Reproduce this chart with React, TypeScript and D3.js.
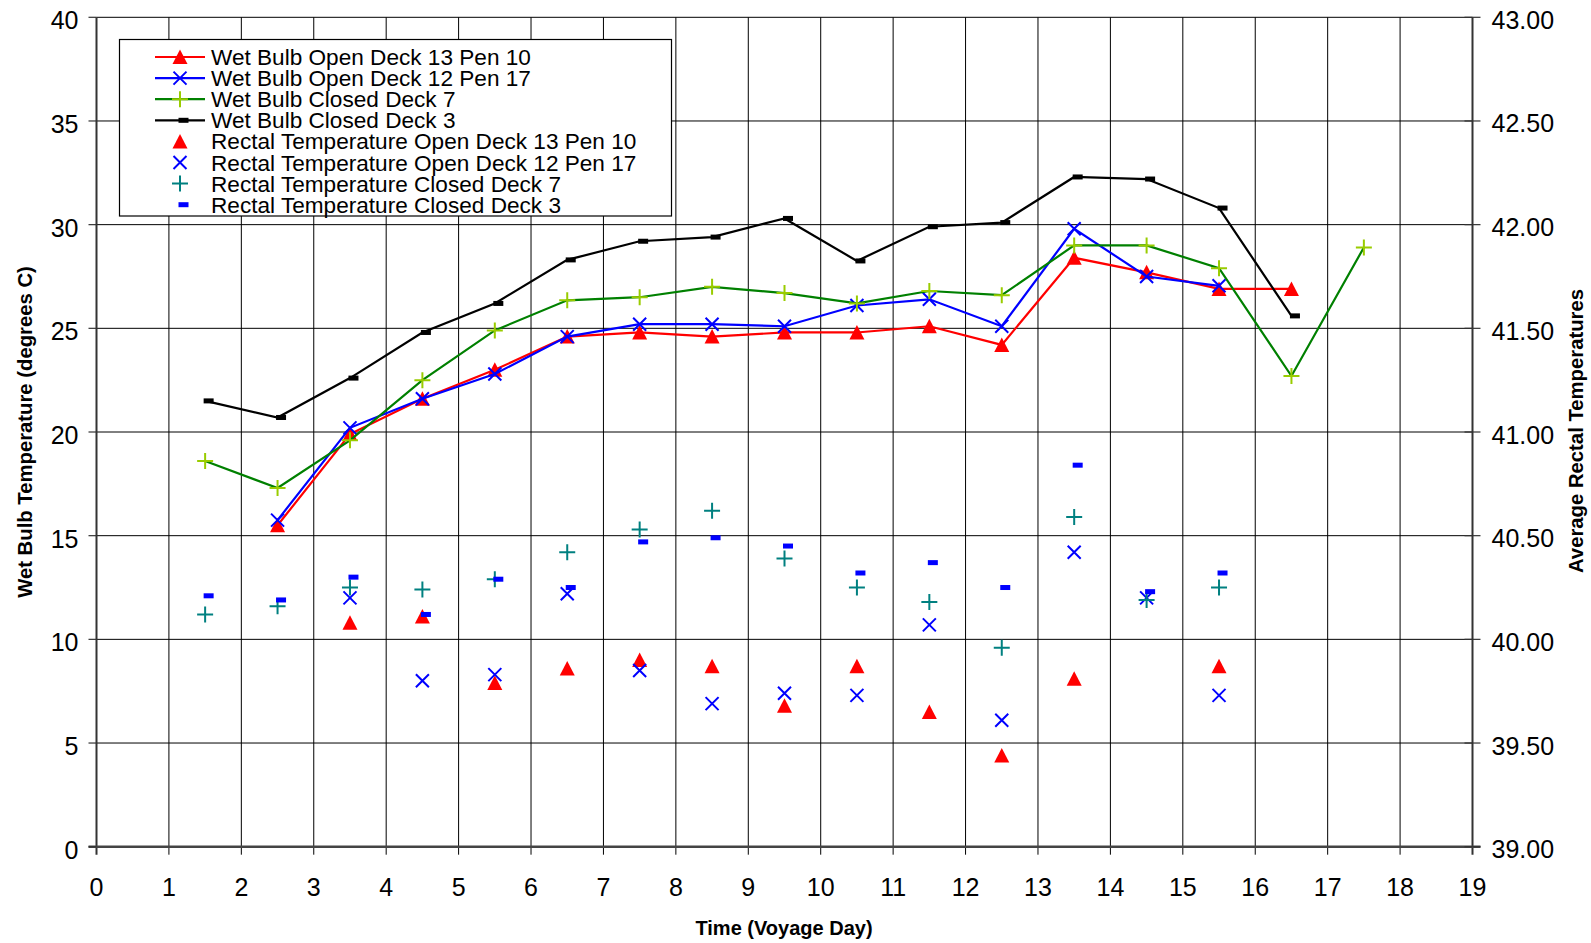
import { useEffect, useRef } from 'react';
import * as d3 from 'd3';

// voyage days (mid-day sampling points)
const days = [1.5, 2.5, 3.5, 4.5, 5.5, 6.5, 7.5, 8.5, 9.5, 10.5, 11.5, 12.5, 13.5, 14.5, 15.5, 16.5, 17.5];

// wet bulb temperatures (left axis, degrees C)
const wetOpen13 = [null, 15.5, 19.9, 21.6, 23.0, 24.6, 24.8, 24.6, 24.8, 24.8, 25.1, 24.2, 28.4, 27.7, 26.9, 26.9, null];
const wetOpen12 = [null, 15.75, 20.2, 21.6, 22.8, 24.6, 25.2, 25.2, 25.1, 26.1, 26.4, 25.1, 29.8, 27.5, 27.05, null, null];
const wetClosed7 = [18.6, 17.3, 19.6, 22.5, 24.9, 26.35, 26.5, 27.0, 26.7, 26.2, 26.8, 26.6, 29.0, 29.0, 27.9, 22.7, 28.9];
const wetClosed3 = [21.5, 20.7, 22.6, 24.8, 26.2, 28.3, 29.2, 29.4, 30.3, 28.25, 29.9, 30.1, 32.3, 32.2, 30.8, 25.6, null];

// average rectal temperatures (right axis)
const rectOpen13 = [null, null, 40.08, 40.11, 39.79, 39.86, 39.9, 39.87, 39.68, 39.87, 39.65, 39.44, 39.81, null, 39.87, null, null];
const rectOpen12 = [null, null, 40.2, 39.8, 39.83, 40.22, 39.85, 39.69, 39.74, 39.73, 40.07, 39.61, 40.42, 40.2, 39.73, null, null];
const rectClosed7 = [40.12, 40.16, 40.25, 40.24, 40.29, 40.42, 40.53, 40.62, 40.39, 40.25, 40.18, 39.96, 40.59, 40.19, 40.25, null, null];
const rectClosed3 = [40.21, 40.19, 40.3, 40.12, 40.29, 40.25, 40.47, 40.49, 40.45, 40.32, 40.37, 40.25, 40.84, 40.23, 40.32, null, null];

const xTicks = d3.range(0, 20);
const leftTicks = [0, 5, 10, 15, 20, 25, 30, 35, 40];
const rightTicks = [39, 39.5, 40, 40.5, 41, 41.5, 42, 42.5, 43];

const FONT = '"Liberation Sans", Arial, Helvetica, sans-serif';

const series = [
  { name: 'Wet Bulb Open Deck 13 Pen 10', values: wetOpen13, axis: 'left', line: '#ff0000', marker: 'triangle', mColor: '#ff0000' },
  { name: 'Wet Bulb Open Deck 12 Pen 17', values: wetOpen12, axis: 'left', line: '#0000ff', marker: 'x', mColor: '#0000ff' },
  { name: 'Wet Bulb Closed Deck 7', values: wetClosed7, axis: 'left', line: '#008000', marker: 'plus', mColor: '#99cc00' },
  { name: 'Wet Bulb Closed Deck 3', values: wetClosed3, axis: 'left', line: '#000000', marker: 'dash', mColor: '#000000' },
  { name: 'Rectal Temperature Open Deck 13 Pen 10', values: rectOpen13, axis: 'right', line: null, marker: 'triangle', mColor: '#ff0000' },
  { name: 'Rectal Temperature Open Deck 12 Pen 17', values: rectOpen12, axis: 'right', line: null, marker: 'x', mColor: '#0000ff' },
  { name: 'Rectal Temperature Closed Deck 7', values: rectClosed7, axis: 'right', line: null, marker: 'plus', mColor: '#008080' },
  { name: 'Rectal Temperature Closed Deck 3', values: rectClosed3, axis: 'right', line: null, marker: 'dash', mColor: '#0000ff' },
];

function drawMarker(g: any, type: string, cx: number, cy: number, color: string) {
  if (type === 'triangle') {
    g.append('path')
      .attr('d', `M${cx},${cy - 7.5} L${cx + 7.5},${cy + 7} L${cx - 7.5},${cy + 7} Z`)
      .attr('fill', color);
  } else if (type === 'x') {
    g.append('path')
      .attr('d', `M${cx - 6.5},${cy - 6.5} L${cx + 6.5},${cy + 6.5} M${cx - 6.5},${cy + 6.5} L${cx + 6.5},${cy - 6.5}`)
      .attr('stroke', color).attr('stroke-width', 2).attr('fill', 'none');
  } else if (type === 'plus') {
    g.append('path')
      .attr('d', `M${cx - 8},${cy} L${cx + 8},${cy} M${cx},${cy - 8} L${cx},${cy + 8}`)
      .attr('stroke', color).attr('stroke-width', 2).attr('fill', 'none');
  } else if (type === 'dash') {
    g.append('rect')
      .attr('x', cx - 1.5).attr('y', cy - 2.5)
      .attr('width', 10).attr('height', 5)
      .attr('fill', color);
  }
}

export default function App() {
  const svgRef = useRef(null);

  useEffect(() => {
    if (!svgRef.current) return;
    const width = 1591;
    const height = 943;
    const margin = { top: 17.3, right: 118.5, bottom: 96.3, left: 96.5 };
    const x0 = margin.left;
    const x1 = width - margin.right;
    const y0 = height - margin.bottom;
    const y1 = margin.top;

    const svg = d3.select(svgRef.current);
    svg.selectAll('*').remove();
    svg.attr('width', width).attr('height', height);

    const x = d3.scaleLinear().domain([0, 19]).range([x0, x1]);
    const yL = d3.scaleLinear().domain([0, 40]).range([y0, y1]);
    const yR = d3.scaleLinear().domain([39, 43]).range([y0, y1]);

    svg.append('rect').attr('width', width).attr('height', height).attr('fill', '#fff');

    // Grid
    const grid = svg.append('g');
    xTicks.filter(t => t > 0 && t < 19).forEach(t => {
      grid.append('line')
        .attr('x1', x(t)).attr('x2', x(t))
        .attr('y1', y1).attr('y2', y0 + 8)
        .attr('stroke', '#000').attr('stroke-width', 1);
    });
    leftTicks.filter(t => t > 0).forEach(t => {
      grid.append('line')
        .attr('x1', x0).attr('x2', x1)
        .attr('y1', yL(t)).attr('y2', yL(t))
        .attr('stroke', '#000').attr('stroke-width', 1);
    });

    // Axes
    const axes = svg.append('g');
    axes.append('line').attr('x1', x0).attr('x2', x0).attr('y1', y1).attr('y2', y0 + 8)
      .attr('stroke', '#333').attr('stroke-width', 2);
    axes.append('line').attr('x1', x1).attr('x2', x1).attr('y1', y1).attr('y2', y0 + 8)
      .attr('stroke', '#333').attr('stroke-width', 2);
    axes.append('line').attr('x1', x0 - 8).attr('x2', x1 + 8).attr('y1', y0).attr('y2', y0)
      .attr('stroke', '#444').attr('stroke-width', 2.5);

    leftTicks.forEach(t => {
      axes.append('line').attr('x1', x0 - 8).attr('x2', x0).attr('y1', yL(t)).attr('y2', yL(t))
        .attr('stroke', '#333').attr('stroke-width', 1.2);
      axes.append('text')
        .attr('x', x0 - 18).attr('y', yL(t) + 12)
        .attr('text-anchor', 'end')
        .attr('font-family', FONT).attr('font-size', 25).attr('fill', '#000')
        .text(t);
    });
    rightTicks.forEach(t => {
      axes.append('line').attr('x1', x1 - 8).attr('x2', x1 + 8).attr('y1', yR(t)).attr('y2', yR(t))
        .attr('stroke', '#333').attr('stroke-width', 1.2);
      axes.append('text')
        .attr('x', x1 + 19).attr('y', yR(t) + 11.5)
        .attr('text-anchor', 'start')
        .attr('font-family', FONT).attr('font-size', 25).attr('fill', '#000')
        .text(d3.format('.2f')(t));
    });
    xTicks.forEach(t => {
      axes.append('text')
        .attr('x', x(t)).attr('y', 896)
        .attr('text-anchor', 'middle')
        .attr('font-family', FONT).attr('font-size', 25).attr('fill', '#000')
        .text(t);
    });

    // Axis titles
    svg.append('text')
      .attr('x', 784).attr('y', 935)
      .attr('text-anchor', 'middle')
      .attr('font-family', FONT).attr('font-size', 20).attr('font-weight', 'bold')
      .text('Time (Voyage Day)');
    svg.append('text')
      .attr('transform', 'translate(32,432) rotate(-90)')
      .attr('text-anchor', 'middle')
      .attr('font-family', FONT).attr('font-size', 20.3).attr('font-weight', 'bold')
      .text('Wet Bulb Temperature (degrees C)');
    svg.append('text')
      .attr('transform', 'translate(1583,431) rotate(-90)')
      .attr('text-anchor', 'middle')
      .attr('font-family', FONT).attr('font-size', 20.3).attr('font-weight', 'bold')
      .text('Average Rectal Temperatures');

    // Series
    const plot = svg.append('g');
    series.forEach(s => {
      const yScale = s.axis === 'left' ? yL : yR;
      const pts = days.map((d, i) => ({ d, v: s.values[i] })).filter(p => p.v != null);
      if (s.line) {
        const line = d3.line<any>().x(p => x(p.d)).y(p => yScale(p.v));
        plot.append('path')
          .attr('d', line(pts))
          .attr('fill', 'none')
          .attr('stroke', s.line)
          .attr('stroke-width', 2.2);
      }
      pts.forEach(p => drawMarker(plot, s.marker, x(p.d), yScale(p.v), s.mColor));
    });

    // Legend
    const legend = svg.append('g');
    legend.append('rect')
      .attr('x', 119.5).attr('y', 39.5)
      .attr('width', 552).attr('height', 176.5)
      .attr('fill', '#fff').attr('stroke', '#000').attr('stroke-width', 1.2);
    series.forEach((s, i) => {
      const cy = 57 + i * 21.1;
      if (s.line) {
        legend.append('line')
          .attr('x1', 155).attr('x2', 205).attr('y1', cy).attr('y2', cy)
          .attr('stroke', s.line).attr('stroke-width', 2.2);
      }
      drawMarker(legend, s.marker, 180, cy, s.mColor);
      legend.append('text')
        .attr('x', 211).attr('y', cy + 8)
        .attr('font-family', FONT).attr('font-size', 22.6).attr('fill', '#000')
        .text(s.name);
    });
  }, []);

  return (
    <div style={{ position: 'absolute', left: 0, top: 0 }}>
      <svg ref={svgRef} style={{ display: 'block' }}></svg>
    </div>
  );
}
